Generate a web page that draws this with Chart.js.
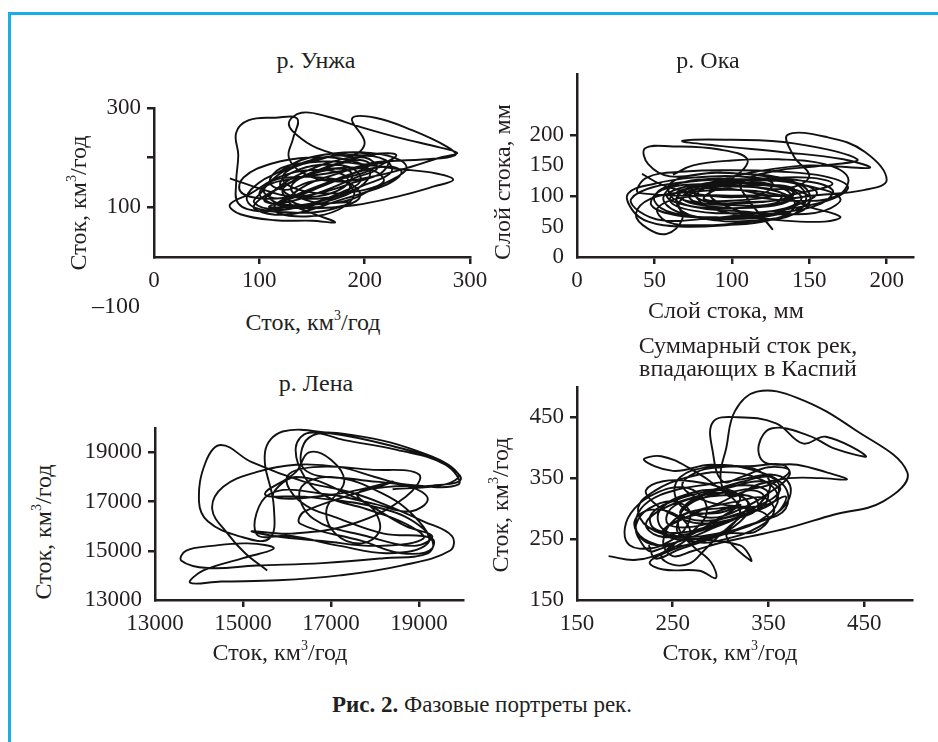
<!DOCTYPE html>
<html>
<head>
<meta charset="utf-8">
<script src="https://cdn.jsdelivr.net/npm/chart.js@4.4.1/dist/chart.umd.min.js"></script>
<style>
  html, body { margin: 0; padding: 0; background: #fff; overflow: hidden; }
  body { width: 938px; height: 742px; position: relative; }
  .frame { position: absolute; left: 8px; top: 12px; width: 960px; height: 760px;
           border-left: 3px solid #18aee8; border-top: 3px solid #18aee8; }
  canvas { position: absolute; }
  .t { position: absolute; font-family: 'Liberation Serif', 'Times New Roman', serif; font-size: 24px;
       color: #231f20; white-space: nowrap; transform: translate(-50%, -50%); line-height: 24px; text-align: center; }
  .t.rot { transform: translate(-50%, -50%) rotate(-90deg); }
  .t sup { font-size: 14px; vertical-align: 10px; line-height: 0; }
</style>
</head>
<body>
<div class="frame"></div>

<canvas id="unzha"></canvas>
<canvas id="oka"></canvas>
<canvas id="lena"></canvas>
<canvas id="caspian"></canvas>

<div class="t" style="left:316px;top:60px">р. Унжа</div>
<div class="t rot" style="left:78px;top:203px">Сток, км<sup>3</sup>/год</div>
<div class="t" style="left:313px;top:322px">Сток, км<sup>3</sup>/год</div>
<div class="t" style="left:116px;top:305px">–100</div>

<div class="t" style="left:708px;top:60px">р. Ока</div>
<div class="t rot" style="left:502px;top:182px">Слой стока, мм</div>
<div class="t" style="left:726px;top:310px">Слой стока, мм</div>

<div class="t" style="left:316px;top:383px">р. Лена</div>
<div class="t rot" style="left:43px;top:532px">Сток, км<sup>3</sup>/год</div>
<div class="t" style="left:280px;top:652px">Сток, км<sup>3</sup>/год</div>

<div class="t" style="left:748px;top:357px;line-height:23px">Суммарный сток рек,<br>впадающих в Каспий</div>
<div class="t rot" style="left:500px;top:505px">Сток, км<sup>3</sup>/год</div>
<div class="t" style="left:730px;top:652px">Сток, км<sup>3</sup>/год</div>

<div class="t" style="left:482px;top:705px;font-size:23px"><b>Рис. 2.</b> Фазовые портреты рек.</div>

<script>
// р. Унжа
const unzhaX = [72,100,128,160,185,180,150,118,92,72, 82,115,150,172,150,128,145,175,205,222,
  215,190,160,130,100,82,85,112,148,185, 205,195,165,130,100,80,78,80,78,90,
  115,136,132,128,142,172,208,245,272,288, 272,232,195,165,140,128,140,160,188,200,
  188,210,245,278,286,255,222,198,170,140, 112,100,112,145,190,232,266,284,268,228,
  192,160,135,122,138,170,200,218,210,186, 158,135,122,130,155,182,196,184,158,128, 108,105,
  120,150,185,205,195,165,135,112,105,125, 160,192,212,200,170,140,118,110,132,168,
  200,225,220,190,160,130,112,102,95,115, 150,178,196,190,165,138,120,128,155,180,
  188,170,145,130,140,165,190,210,230,240, 228,200,170,140,118,100,88,95,125,160, 185,
  110,140,175,200,220,230,215,185,150,120, 100,95,115,140,170,200,225,235,222,195,
  165,135,115,118,148,175,190,180,150,125, 110,120,150,185,210];
const unzhaY = [158,138,122,118,135,165,175,160,128,105, 86,74,73,70,88,112,145,168,188,190,
  168,150,130,120,118,132,160,188,200,195, 172,140,112,97,92,108,150,205,250,275,
  280,278,238,200,168,152,162,182,200,209, 220,240,262,282,290,268,238,215,204,230,
  278,280,255,222,205,196,192,180,170,160, 148,128,108,98,104,122,142,155,168,178,
  188,192,182,158,135,128,135,152,172,180, 172,155,135,112,100,104,124,150,160,160, 148,128,
  118,135,165,185,195,180,155,130,112,110, 132,160,178,200,192,168,140,118,104,118,
  145,170,195,205,200,180,155,130,110,96, 108,130,152,176,186,176,150,125,122,140,
  168,178,165,140,118,108,118,140,160,180, 200,210,208,195,170,150,120,100,90,92, 110,
  100,125,155,170,190,205,208,195,170,140, 115,98,85,90,110,130,150,172,182,172,
  150,125,105,88,82,95,125,152,152,135, 150,178,192,210,205];
const unzhaXTicks = [0, 100, 200, 300];
const unzhaYTicks = [0, 100, 200, 300];
const unzhaYLabels = [100, 300];

// р. Ока
const okaX = [42,55,78,102,122,126,105,75,50,33, 36,46,66,96,124,140,136,114,86,62,
  56,70,100,130,150,146,122,90,60,46, 44,62,92,110,102,82,66,68,58,46,
  38,48,70,100,130,150,170,160,132,102, 82,76,92,116,150,189,172,132,92,68,
  100,140,181,160,126,106,110,126,120,100, 86,90,120,150,170,160,135,105,80,62,
  60,80,110,136,148,140,115,90,68,65, 80,110,135,150,140,136,162,186,200,186, 150,120,95,78,80,
  95,125,140,130,100,70,58,70,100,130, 145,135,105,75,60,68,95,125,138,120,
  90,68,78,108,132,128,100,75,72,98, 128,150,165,150,115,80,55,50,62,90,
  120,142,155,140,108,78,65,80,110,135, 140,118,90,82,100,125,
  40,45,70,100,130,160,175,165,140,110, 80,55,40,35,50,80,115,145,165,158,
  130,95,65,48,55,85,120,150,145,112, 80,58,52,70,105,140,168,175,160,130, 100,75,62];
const okaY = [136,118,103,98,106,122,132,130,120,104, 76,58,50,52,60,80,108,124,128,116,
  92,70,62,70,90,116,132,138,132,152, 178,181,176,160,132,112,90,62,38,46,
  70,96,106,110,102,82,66,58,60,70, 86,110,126,140,150,146,160,172,182,190,
  192,186,160,150,140,120,96,46,62,80, 100,120,126,116,96,76,70,75,80,96,
  120,136,136,126,100,70,60,60,75,100, 116,116,112,132,165,200,196,172,126,110, 100,90,88,96,110,
  120,118,105,88,80,85,100,115,122,115, 98,80,72,76,92,110,118,110,95,82,
  82,95,112,115,105,88,85,92,108,112, 100,108,120,130,128,125,112,92,72,65,
  68,85,105,122,125,118,100,88,90,96, 112,118,110,95,92,100,
  105,130,140,142,140,132,115,95,80,70, 62,60,75,95,115,125,128,125,110,88,
  72,65,68,85,110,120,118,100,75,58, 52,58,80,98,100,92,100,130,152,160, 158,150,135];
const okaXTicks = [0, 50, 100, 150, 200];
const okaYTicks = [0, 50, 100, 150, 200];

// р. Лена
const lenaX = [15550,15050,14650,14300,14550,15300,16200,17200,18000,18700,
  19900,19600,18500,17300,16500,16200,16400,16900,17800,18700,
  19100,18100,16800,15700,15200,16100,17500,18700,19000,17900,
  16600,16000,16300,17200,18200,19300,19200,18200,16800,15300,
  14200,13600,13700,14300,15100,15700,15000,14100,13800,14500,
  15800,17200,18600,19700,19750,19100,18200,17400,16400,15200,
  14500,14150,14000,14200,14900,15600,15700,15500,15900,16900,
  18300,19500,19950,19300,18300,17600,18000,18100,17700,17100,
  16900,17300,17000,16500,16200,15500,16400,18200,19100,19300,
  18600,17700,16300,16400,18400,17100,15700,
  16200,17500,18700,19300,18900,17800,16600,16300,17000,18200,
  19000,19200,18300,17200,16100,15300,15600,16900,18000,18800,
  19200,18800,17600,16400,16500,17500,19200,19900,19600,18400];
const lenaY = [14200,14900,15700,16700,17600,18200,18500,18400,18000,17700,
  17700,18500,19100,19500,19800,19200,18000,17200,16700,16100,
  15500,15200,15400,15600,15800,15700,16100,17200,18100,18300,
  18400,18000,17000,16300,15700,15500,14900,14700,14500,14400,
  14300,14600,15000,15200,15300,15100,14700,14200,13700,13750,
  13800,14000,14400,15000,15600,16200,16900,17400,17800,18600,
  19300,18600,17000,16200,15600,15500,16800,19000,19850,19800,
  19300,18600,17900,17650,17600,17300,16600,15800,15300,15700,
  16700,17800,18700,19000,18200,17300,17200,16700,15900,15100,
  14900,15400,16100,16600,17800,17300,17200,
  18000,17200,16000,15600,15200,15600,16300,17500,18000,17300,
  16200,15300,14900,15200,15600,15700,17300,17300,16900,16600,
  17100,17600,17900,18300,19600,19700,18900,18100,17700,17500];
const lenaTicks = [13000, 15000, 17000, 19000];

// Суммарный сток рек, впадающих в Каспий
const caspX = [183,212,245,268,256,226,210,220,250,290, 320,330,302,262,236,240,274,312,348,360,
  342,302,262,232,214,224,258,300,340,368, 366,332,290,250,220,238,268,300,320,310,
  282,246,226,240,278,295,290,270,256,262, 286,320,352,372,350,322,302,292,292,318,
  358,386,410,452,420,392,354,340,346,380, 410,432,405,372,340,310,300,306,315,338,
  380,440,495,470,418,370,330,300,270,250, 240,252,282,318,345,356,340,305,275,255,
  262,295,330,350,336,306,332,320,
  240,270,300,330,345,330,300,265,235,222, 240,275,310,340,360,355,325,290,255,230,
  228,255,290,325,352,362,340,305,270,245, 248,280,318,348,345,315,280,258,270,305,
  335,338,310,276,250,230,222,240,270,300, 320,312,285,262,275,305,328,322,292,260,
  232,215,212,225,252,288,322,352,370,372, 358,330,296,262,240,262,295,320,
  230,215,212,225,250,268,262,245,228,205, 200,210,232,260,280,285,270,250,238,250,
  268,282,300,320,342,352,340,315,285,258, 252,262,290,322,350,372,365,335,300,275,
  260,280,310,345,368,358,320,285,255,232, 225];
const caspY = [222,216,232,258,288,298,278,250,238,252, 278,308,330,322,296,266,250,262,288,320,
  348,360,350,330,302,270,254,260,278,300, 338,364,372,362,380,386,366,332,300,270,
  250,230,212,200,198,186,212,240,270,300, 320,330,340,362,368,352,345,392,442,450,
  440,407,418,386,398,420,432,405,376,372, 360,348,350,350,340,320,350,400,460,492,
  482,430,360,312,290,268,254,244,230,222, 245,282,300,312,318,296,270,250,245,262,
  290,300,300,285,262,256,214,240,
  260,290,310,330,320,295,275,258,255,275, 300,320,335,345,335,310,290,272,260,268,
  292,315,330,345,352,330,305,285,270,275, 300,322,338,330,305,288,280,292,312,322,
  318,298,282,276,290,310,330,345,345,335, 320,300,292,300,318,326,312,290,268,248,
  240,255,285,312,330,340,348,356,345,318, 292,272,258,248,262,285,295,305,
  230,250,275,300,312,295,265,245,235,240, 268,300,325,335,320,290,262,240,222,208,
  210,230,258,285,310,340,362,370,368,352, 325,300,285,300,325,355,372,370,368,360,
  338,315,305,305,320,292,268,248,232,218, 240];
const caspTicks = [150, 250, 350, 450];

const ink = '#231f20';
const tickFont = { family: "'Liberation Serif', 'Times New Roman', serif", size: 23 };
const YW = 90, XH = 45, PT = 15, PR = 25;

function axis(isX, min, max, ticks, labels, marks) {
  return {
    type: 'linear', min: min, max: max,
    afterBuildTicks: s => { s.ticks = ticks.map(v => ({ value: v })); },
    afterFit: s => { if (isX) s.height = XH; else s.width = YW; },
    ticks: {
      font: tickFont, color: ink, padding: isX ? 3 : 6, autoSkip: false, maxRotation: 0,
      callback: v => labels.includes(v) ? String(v) : ''
    },
    grid: {
      drawOnChartArea: false, tickLength: 7, lineWidth: 2.5,
      color: c => (c.tick && marks.includes(c.tick.value)) ? ink : 'rgba(0,0,0,0)'
    },
    border: { color: ink, width: 2.5 }
  };
}

function makePlot(id, area, xs, ys, xAxis, yAxis) {
  const cv = document.getElementById(id);
  cv.width = YW + (area.r - area.l) + PR;
  cv.height = PT + (area.b - area.t) + XH;
  cv.style.left = (area.l - YW) + 'px';
  cv.style.top = (area.t - PT) + 'px';
  const pts = xs.map((x, i) => ({ x: x, y: ys[i] }));
  return new Chart(cv, {
    type: 'scatter',
    data: { datasets: [{ data: pts, showLine: true, borderColor: '#111', borderWidth: 1.9,
      pointRadius: 0, tension: 0.4 }] },
    options: {
      responsive: false, animation: false, devicePixelRatio: 1,
      layout: { padding: { top: PT, right: PR, left: 0, bottom: 0 } },
      plugins: { legend: { display: false }, tooltip: { enabled: false } },
      scales: { x: xAxis, y: yAxis }
    }
  });
}

makePlot('unzha', { l: 154, t: 103, r: 470, b: 257 }, unzhaX, unzhaY,
  axis(true, 0, 300, unzhaXTicks, unzhaXTicks, [100, 200, 300]),
  axis(false, 0, 300, unzhaYTicks, unzhaYLabels, [100, 200, 300]));

makePlot('oka', { l: 577, t: 69, r: 913, b: 257 }, okaX, okaY,
  axis(true, 0, 217, okaXTicks, okaXTicks, [50, 100, 150, 200]),
  axis(false, 0, 300, okaYTicks, okaYTicks, [100, 200]));

makePlot('lena', { l: 155, t: 423, r: 463, b: 600 }, lenaX, lenaY,
  axis(true, 13000, 20000, lenaTicks, lenaTicks, [15000, 17000, 19000]),
  axis(false, 13000, 20000, lenaTicks, lenaTicks, [15000, 17000, 19000]));

makePlot('caspian', { l: 577, t: 382, r: 912, b: 600 }, caspX, caspY,
  axis(true, 150, 500, caspTicks, caspTicks, [250, 350, 450]),
  axis(false, 150, 500, caspTicks, caspTicks, [250, 350, 450]));
</script>
</body>
</html>
